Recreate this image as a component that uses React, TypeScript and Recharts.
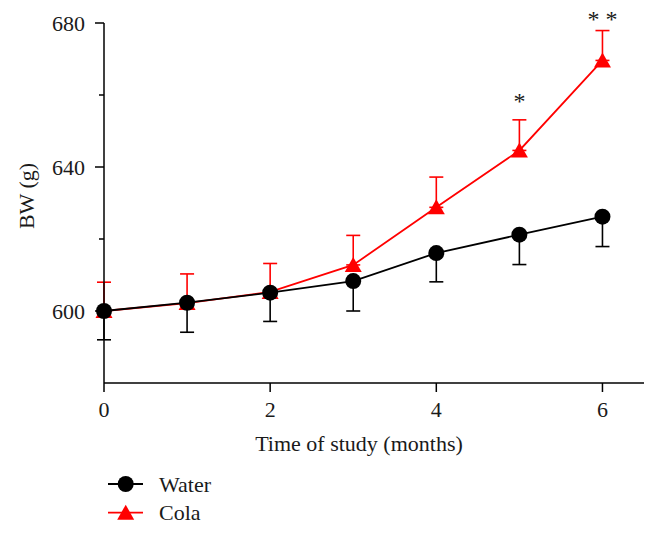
import React from 'react';
import { ComposedChart, Line, XAxis, YAxis, ErrorBar, Scatter, Legend, Label } from 'recharts';

const months = [0, 1, 2, 3, 4, 5, 6];
const waterBW = [600, 602.3, 605.1, 608.3, 616.1, 621.2, 626.2];
const waterSEM = [8, 8.2, 8, 8.3, 8, 8.3, 8.3];
const colaBW = [600, 602.2, 605.3, 612.8, 628.8, 644.6, 669.6];
const colaSEM = [8, 8.1, 7.9, 8.2, 8.4, 8.5, 8.3];
const sigMonths = [5, 6];
const sigMarks = ['*', '* *'];
const sigLevels = [650, 673];
const xTicks = [0, 2, 4, 6];
const yTicks = [600, 620, 640, 660, 680];
const yLabelled = [600, 640, 680];

const FONT = '"Liberation Serif", "DejaVu Serif", serif';
const TEXT = '#1a1a1a';
const RED = '#ff0000';
const FS = 22;

const data = months.map((m, i) => ({
  month: m,
  water: waterBW[i],
  waterErr: [waterSEM[i], 0],
  cola: colaBW[i],
  colaErr: [0, colaSEM[i]],
}));

const sigData = sigMonths.map((m, i) => ({ month: m, sig: sigLevels[i], mark: sigMarks[i] }));

const circleDot = (p: any) => (
  <circle key={`w${p.index}`} cx={p.cx} cy={p.cy} r={8} fill="#000" stroke="none" />
);

const triangleDot = (p: any) => (
  <path
    key={`c${p.index}`}
    d={`M${p.cx},${p.cy - 8} L${p.cx + 8.5},${p.cy + 7} L${p.cx - 8.5},${p.cy + 7} Z`}
    fill={RED}
    stroke="none"
  />
);

const YTick = (p: any) => {
  const v = p.payload.value;
  const labelled = yLabelled.includes(v);
  const axisX = p.x + 19;
  return (
    <g>
      <line x1={axisX - (labelled ? 9 : 5)} x2={axisX} y1={p.y} y2={p.y} stroke="#000" strokeWidth={1.5} />
      {labelled && (
        <text x={p.x} y={p.y} dy="0.35em" textAnchor="end" fill={TEXT} fontSize={FS} fontFamily={FONT}>
          {v}
        </text>
      )}
    </g>
  );
};

const StarShape = (p: any) => (
  <text
    x={p.cx}
    y={p.cy - 36}
    dy="0.6em"
    textAnchor="middle"
    fill={TEXT}
    fontSize={24}
    fontFamily={FONT}
  >
    {p.payload.mark}
  </text>
);

const XTitle = (p: any) => {
  const vb = p.viewBox;
  return (
    <text x={vb.x + 255} y={vb.y + 60} dy="0.35em" textAnchor="middle" fill={TEXT} fontSize={FS} fontFamily={FONT}>
      Time of study (months)
    </text>
  );
};

const YTitle = () => (
  <text
    x={26}
    y={196}
    dy="0.35em"
    textAnchor="middle"
    transform="rotate(-90, 26, 196)"
    fill={TEXT}
    fontSize={FS}
    fontFamily={FONT}
  >
    BW (g)
  </text>
);

const legendItems = [
  { name: 'Water', color: '#000', shape: 'circle' },
  { name: 'Cola', color: RED, shape: 'triangle' },
];

const LegendContent = () => (
  <svg width={220} height={64}>
    {legendItems.map((it, i) => {
      const cy = 16 + i * 28.7;
      const cx = 25.7;
      return (
        <g key={it.name}>
          <line x1={8} x2={43} y1={cy} y2={cy} stroke={it.color} strokeWidth={1.8} />
          {it.shape === 'circle' ? (
            <circle cx={cx} cy={cy} r={8} fill={it.color} />
          ) : (
            <path d={`M${cx},${cy - 8} L${cx + 8.5},${cy + 7} L${cx - 8.5},${cy + 7} Z`} fill={it.color} />
          )}
          <text x={59} y={cy} dy="0.35em" fill={TEXT} fontSize={FS} fontFamily={FONT}>
            {it.name}
          </text>
        </g>
      );
    })}
  </svg>
);

export default function App() {
  return (
    <div style={{ position: 'absolute', left: 0, top: 0, width: 658, height: 533, background: '#fff' }}>
      <ComposedChart width={658} height={533} data={data} margin={{ top: 23, right: 14, bottom: 0, left: 0 }}>
        <XAxis
          dataKey="month"
          type="number"
          domain={[0, 6.5]}
          ticks={xTicks}
          height={150}
          tickSize={9}
          tickMargin={9}
          stroke="#000"
          strokeWidth={1.5}
          tick={{ fill: TEXT, fontSize: FS, fontFamily: FONT }}
        >
          <Label content={XTitle} />
        </XAxis>
        <YAxis
          type="number"
          domain={[580, 680]}
          ticks={yTicks}
          width={104}
          tickSize={9}
          tickMargin={10}
          tickLine={false}
          stroke="#000"
          strokeWidth={1.5}
          tick={YTick}
        >
          <Label content={YTitle} />
        </YAxis>
        <Legend
          layout="vertical"
          align="center"
          verticalAlign="middle"
          wrapperStyle={{ left: 100, top: 468, width: 220, height: 64 }}
          content={LegendContent}
        />
        <Line
          dataKey="cola"
          name="Cola"
          stroke={RED}
          strokeWidth={1.8}
          dot={triangleDot}
          activeDot={false}
          isAnimationActive={false}
        >
          <ErrorBar dataKey="colaErr" direction="y" width={7} stroke={RED} strokeWidth={1.6} />
        </Line>
        <Line
          dataKey="water"
          name="Water"
          stroke="#000"
          strokeWidth={1.8}
          dot={circleDot}
          activeDot={false}
          isAnimationActive={false}
        >
          <ErrorBar dataKey="waterErr" direction="y" width={7} stroke="#000" strokeWidth={1.6} />
        </Line>
        <Scatter
          data={sigData}
          dataKey="sig"
          name="sig"
          legendType="none"
          shape={StarShape}
          isAnimationActive={false}
        />
      </ComposedChart>
    </div>
  );
}
